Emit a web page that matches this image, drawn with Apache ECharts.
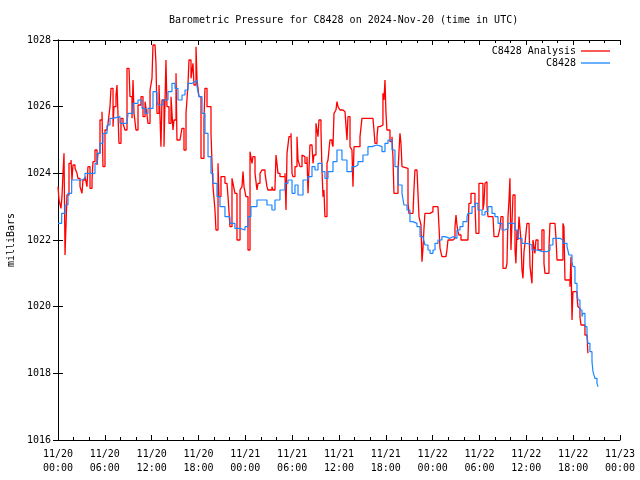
<!DOCTYPE html>
<html>
<head>
<meta charset="utf-8">
<script src="https://cdn.jsdelivr.net/npm/echarts@6/dist/echarts.min.js"></script>
<style>html,body{margin:0;padding:0;background:#fff}#c{width:640px;height:480px}</style>
</head>
<body>
<div id="c"></div>
<script>
// hours since 2024-11-20 00:00 UTC
const blueHours = [0.00,0.47,0.90,1.28,1.75,3.07,3.46,4.74,5.00,5.38,5.76,6.28,6.66,7.05,7.94,8.84,8.97,9.61,10.25,10.76,11.15,11.53,12.17,12.68,12.81,13.45,14.09,14.60,14.99,15.37,15.89,16.27,16.65,17.17,17.55,17.81,18.06,18.45,18.83,19.22,19.60,19.86,20.37,20.75,21.39,22.03,22.67,23.32,23.96,24.34,24.72,25.49,26.26,26.77,27.41,27.80,28.44,29.08,29.46,29.98,30.36,30.75,31.39,32.03,32.54,32.92,33.31,33.82,34.20,34.59,35.23,35.74,36.38,37.02,37.66,38.05,38.43,39.07,39.71,40.23,40.87,41.51,41.89,42.28,42.79,43.17,43.56,44.07,44.32,44.71,45.09,45.48,45.99,46.38,46.76,47.01,47.40,47.66,48.04,48.30,48.68,49.19,49.58,49.83,50.22,50.60,51.11,51.50,51.88,52.40,52.52,53.04,53.42,53.80,54.32,54.70,55.09,55.60,55.98,56.37,56.88,57.26,57.65,58.16,58.55,58.93,59.44,60.08,60.72,61.36,62.13,62.64,63.03,63.41,63.93,64.31,64.69,65.21,65.46,65.85,65.97,66.23,66.49,66.61,66.87,67.13,67.25,67.51,67.77,67.89,68.15,68.41,68.54,68.79,69.05,69.18];
const blueValues = [1022.5,1022.8,1023.05,1023.4,1023.8,1023.85,1024.0,1024.3,1024.6,1024.9,1025.2,1025.45,1025.65,1025.7,1025.5,1025.5,1025.8,1026.1,1026.2,1025.95,1025.8,1025.95,1026.45,1026.15,1026.05,1026.2,1026.45,1026.7,1026.55,1026.2,1026.35,1026.5,1026.7,1026.75,1026.8,1026.6,1026.3,1025.8,1025.2,1024.5,1024.0,1023.7,1023.3,1023.0,1022.7,1022.5,1022.35,1022.3,1022.4,1022.7,1023.0,1023.2,1023.2,1023.05,1022.9,1023.2,1023.5,1023.7,1023.8,1023.4,1023.65,1023.35,1023.8,1023.9,1024.2,1024.1,1024.3,1024.05,1023.85,1024.05,1024.35,1024.7,1024.4,1024.05,1024.2,1024.25,1024.35,1024.55,1024.8,1024.85,1024.8,1024.65,1024.9,1025.0,1024.7,1024.2,1023.65,1023.4,1023.05,1022.9,1022.55,1022.5,1022.4,1022.1,1022.05,1021.85,1021.7,1021.6,1021.7,1021.9,1022.0,1022.1,1022.15,1022.05,1022.1,1022.05,1022.3,1022.4,1022.55,1022.7,1022.8,1023.0,1023.1,1022.9,1022.75,1022.85,1023.0,1022.8,1022.7,1022.5,1022.3,1022.35,1022.5,1022.5,1022.3,1022.05,1021.9,1021.85,1021.7,1021.65,1021.65,1021.7,1021.85,1022.05,1022.05,1022.0,1021.9,1021.8,1021.55,1021.35,1021.2,1020.7,1020.45,1020.2,1019.9,1019.7,1019.8,1019.4,1019.15,1018.9,1018.65,1018.35,1018.05,1017.85,1017.7,1017.6];

const redHours = [0.00,0.13,0.38,0.51,0.64,0.77,0.90,1.15,1.41,1.67,1.79,1.92,2.18,2.43,2.56,2.82,3.07,3.20,3.46,3.71,3.84,4.10,4.36,4.48,4.74,5.00,5.12,5.38,5.64,5.76,6.02,6.28,6.41,6.66,6.79,7.05,7.17,7.43,7.56,7.81,8.07,8.33,8.58,8.84,9.10,9.22,9.48,9.61,9.74,9.99,10.25,10.63,10.89,11.15,11.40,11.53,11.79,12.04,12.17,12.43,12.55,12.68,12.94,13.19,13.32,13.58,13.83,13.96,14.22,14.48,14.73,14.86,15.12,15.24,15.63,15.88,16.14,16.40,16.65,16.78,17.04,17.29,17.42,17.68,17.81,18.06,18.32,18.70,18.83,19.09,19.34,19.60,19.73,19.86,20.11,20.24,20.50,20.62,20.88,21.39,21.65,21.78,22.03,22.29,22.42,22.67,22.93,23.32,23.57,23.70,23.83,24.08,24.34,24.60,24.85,24.98,25.24,25.49,25.62,25.88,26.13,26.52,26.77,26.90,27.41,27.54,27.80,27.93,28.05,28.18,28.44,29.08,29.21,29.34,29.59,29.85,29.98,30.10,30.36,30.62,30.75,31.00,31.26,31.39,31.64,31.90,32.03,32.28,32.54,32.67,32.79,33.05,33.18,33.31,33.43,33.69,33.82,33.95,34.07,34.20,34.46,34.59,34.84,35.10,35.23,35.36,35.61,35.74,35.87,36.12,36.51,36.77,37.02,37.15,37.41,37.66,37.79,37.92,38.43,38.69,38.94,40.35,40.48,40.61,40.87,40.99,41.25,41.63,41.76,41.89,42.02,42.14,42.53,42.79,42.91,43.04,43.56,43.81,43.94,44.07,44.19,44.84,44.96,45.48,45.60,45.73,45.99,46.12,46.25,46.50,46.63,46.76,46.89,47.01,47.66,47.91,48.04,48.68,48.81,48.94,49.19,49.70,49.83,49.96,50.60,50.86,50.99,51.11,51.24,51.37,51.63,52.52,52.65,52.91,53.16,53.42,53.55,53.80,53.93,54.44,54.57,54.70,54.83,54.96,55.09,55.73,55.86,56.37,56.62,56.75,57.01,57.39,57.52,57.65,57.78,57.90,58.03,58.16,58.29,58.55,58.67,58.80,58.93,59.06,59.31,59.44,59.57,59.70,59.83,60.08,60.34,60.47,60.72,60.85,61.10,61.23,61.49,62.00,62.26,62.39,62.90,63.03,63.67,63.80,63.93,64.69,64.82,64.95,65.59,65.72,65.85,65.97,66.49,66.61,66.74,66.87,67.00,67.51,67.77,67.89];
const redValues = [1023.6,1023.2,1022.95,1023.3,1024.0,1024.6,1021.55,1023.35,1024.3,1024.4,1023.8,1024.25,1024.15,1024.0,1023.85,1023.6,1023.4,1023.8,1023.9,1023.6,1024.2,1023.55,1023.8,1024.35,1024.7,1024.25,1024.6,1025.6,1025.85,1024.2,1025.3,1025.25,1025.5,1026.0,1026.55,1025.4,1026.0,1026.35,1026.65,1024.9,1025.65,1025.5,1025.3,1027.15,1027.15,1026.3,1025.65,1026.8,1025.8,1025.3,1026.05,1026.3,1025.7,1026.15,1025.75,1025.5,1026.5,1026.85,1027.85,1027.85,1027.3,1025.8,1026.65,1024.8,1026.2,1024.8,1027.4,1026.0,1025.5,1026.3,1025.3,1025.6,1027.0,1025.0,1025.0,1025.35,1024.7,1025.8,1026.65,1027.4,1026.85,1027.3,1026.65,1027.8,1026.8,1026.3,1024.45,1025.6,1026.55,1026.0,1026.0,1025.2,1024.3,1023.6,1022.9,1022.3,1024.3,1023.3,1023.9,1023.7,1023.7,1023.3,1022.4,1023.85,1023.7,1023.4,1022.0,1023.5,1023.6,1024.05,1023.6,1023.3,1021.7,1024.65,1024.3,1024.5,1024.0,1023.5,1023.7,1024.0,1024.1,1024.0,1023.6,1023.5,1023.6,1023.5,1023.6,1024.55,1024.3,1024.0,1023.9,1024.0,1022.9,1024.6,1025.1,1025.2,1024.0,1023.9,1024.2,1025.1,1024.4,1024.2,1024.55,1024.5,1024.3,1024.5,1023.4,1024.85,1024.85,1024.3,1024.55,1025.5,1025.3,1025.1,1025.6,1025.3,1024.1,1023.3,1023.5,1022.7,1024.3,1024.4,1025.0,1024.9,1024.8,1025.8,1025.9,1026.15,1026.0,1025.9,1025.85,1025.8,1025.0,1025.7,1024.8,1024.7,1023.6,1024.8,1024.8,1025.1,1025.65,1025.65,1025.3,1024.9,1025.1,1025.4,1025.45,1026.4,1026.2,1026.8,1025.8,1025.3,1024.95,1025.1,1024.5,1023.4,1024.1,1025.2,1024.9,1024.2,1024.15,1023.1,1022.8,1022.8,1023.5,1024.1,1024.1,1023.4,1022.7,1022.45,1021.35,1021.75,1022.35,1022.8,1022.8,1022.85,1023.0,1023.0,1022.4,1021.75,1021.5,1021.5,1021.7,1022.0,1022.05,1022.4,1022.75,1022.45,1022.25,1022.15,1022.0,1022.0,1023.1,1023.4,1023.4,1023.1,1022.2,1022.2,1023.7,1022.9,1023.1,1023.7,1023.75,1023.0,1022.7,1022.65,1022.1,1022.1,1022.35,1022.7,1021.15,1021.2,1021.3,1022.7,1023.2,1023.85,1021.7,1022.5,1023.35,1021.7,1021.3,1022.3,1022.0,1022.7,1022.0,1021.1,1020.85,1021.65,1021.9,1022.5,1022.5,1021.2,1020.7,1022.0,1021.6,1022.0,1021.7,1022.3,1021.3,1021.0,1021.8,1022.5,1022.5,1022.05,1021.4,1022.5,1022.4,1020.8,1020.6,1021.5,1019.6,1020.45,1020.3,1020.0,1019.95,1019.7,1019.45,1019.15,1019.1,1018.6];

const yTicks = [1016, 1018, 1020, 1022, 1024, 1026, 1028];
const xStartDay = 20;
const seriesNames = ['C8428 Analysis', 'C8428'];
const seriesColors = ['#ff0000', '#1a86ff'];
const titleText = 'Barometric Pressure for C8428 on 2024-Nov-20 (time in UTC)';

const FONT = '"DejaVu Sans Mono", "Liberation Mono", monospace';
function pad(n){ return (n < 10 ? '0' : '') + n; }
function xLabel(h){
  const day = xStartDay + Math.floor(h / 24);
  const hh = Math.round(h % 24);
  return '11/' + day + '\n' + pad(hh) + ':00';
}
function zip(a, b){ return a.map((v, i) => [v, b[i]]); }

const chart = echarts.init(document.getElementById('c'), null, {renderer: 'canvas'});
const xCommon = {
  type: 'value', min: 0, max: 72, interval: 6,
  axisLine: {show: true, lineStyle: {color: '#000', width: 1}},
  axisTick: {show: true, inside: true, length: 5, lineStyle: {color: '#000'}},
  minorTick: {show: true, splitNumber: 3, length: 3, lineStyle: {color: '#000'}},
  splitLine: {show: false}
};
const yCommon = {
  type: 'value', min: yTicks[0], max: yTicks[yTicks.length - 1], interval: 2,
  axisLine: {show: true, lineStyle: {color: '#000', width: 1}},
  axisTick: {show: true, inside: true, length: 5, lineStyle: {color: '#000'}},
  splitLine: {show: false}
};
const legendCommon = {
  right: 30, padding: 0, align: 'right', icon: 'rect', itemWidth: 29, itemHeight: 1.3,
  textStyle: {fontFamily: FONT, fontSize: 10, color: '#000'}
};
chart.setOption({
  animation: false,
  backgroundColor: '#fff',
  title: {
    text: titleText, left: 164, top: 10,
    textStyle: {fontFamily: FONT, fontSize: 10, fontWeight: 'normal', color: '#000'}
  },
  legend: [
    Object.assign({}, legendCommon, {data: [seriesNames[0]], top: 46}),
    Object.assign({}, legendCommon, {data: [seriesNames[1]], top: 58})
  ],
  grid: {left: 58, right: 20, top: 40, bottom: 40, containLabel: false, outerBoundsMode: 'none'},
  xAxis: [
    Object.assign({}, xCommon, {position: 'bottom',
      axisLabel: {show: true, margin: 7, formatter: xLabel, fontFamily: FONT, fontSize: 10, color: '#000', lineHeight: 14}}),
    Object.assign({}, xCommon, {position: 'top', axisLabel: {show: false}})
  ],
  yAxis: [
    Object.assign({}, yCommon, {position: 'left',
      name: 'milliBars', nameLocation: 'middle', nameGap: 42, nameRotate: 90,
      nameTextStyle: {fontFamily: FONT, fontSize: 10, color: '#000'},
      axisLabel: {show: true, margin: 7, formatter: v => String(v), fontFamily: FONT, fontSize: 10, color: '#000'}}),
    Object.assign({}, yCommon, {position: 'right', axisLabel: {show: false}})
  ],
  series: [
    {name: seriesNames[0], type: 'line', step: 'end', symbol: 'none', showSymbol: false,
     data: zip(redHours, redValues), color: seriesColors[0],
     lineStyle: {color: seriesColors[0], width: 1.3}},
    {name: seriesNames[1], type: 'line', step: 'end', symbol: 'none', showSymbol: false,
     data: zip(blueHours, blueValues), color: seriesColors[1],
     lineStyle: {color: seriesColors[1], width: 1.2}}
  ]
});
</script>
</body>
</html>
